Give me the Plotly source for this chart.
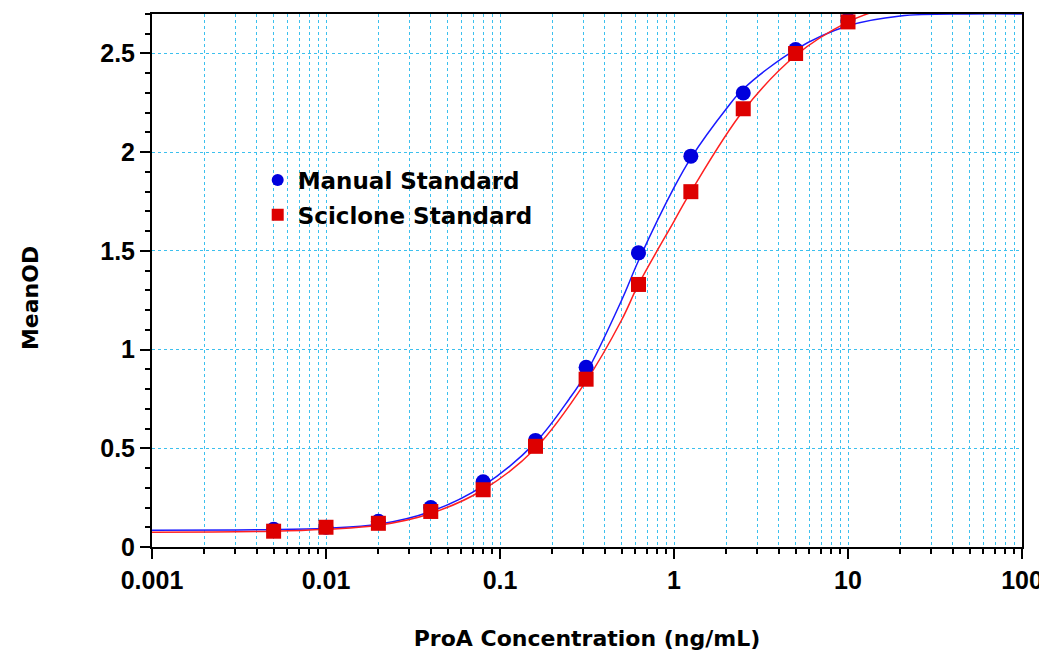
import plotly.graph_objects as go

# Standard points
conc = [0.005, 0.01, 0.02, 0.04, 0.08, 0.16, 0.3125, 0.625, 1.25, 2.5, 5, 10]
manual_od = [0.09, 0.10, 0.13, 0.20, 0.33, 0.54, 0.91, 1.49, 1.98, 2.30, 2.52, 2.67]
sciclone_od = [0.08, 0.10, 0.12, 0.18, 0.29, 0.51, 0.85, 1.33, 1.80, 2.22, 2.50, 2.66]

# Fitted curves
manual_fit_x = [0.001, 0.005, 0.01, 0.02, 0.04, 0.08, 0.16, 0.25, 0.3125, 0.5, 0.625, 1, 1.25, 2, 2.5, 5, 10, 20, 50, 100]
manual_fit_y = [0.085, 0.088, 0.095, 0.115, 0.18, 0.31, 0.53, 0.75, 0.88, 1.25, 1.45, 1.82, 1.97, 2.22, 2.32, 2.52, 2.64, 2.69, 2.70, 2.70]
sciclone_fit_x = [0.001, 0.005, 0.01, 0.02, 0.04, 0.08, 0.16, 0.3125, 0.5, 0.625, 1, 1.25, 2.5, 5, 10, 15, 20]
sciclone_fit_y = [0.075, 0.08, 0.09, 0.11, 0.17, 0.29, 0.50, 0.84, 1.15, 1.33, 1.65, 1.80, 2.21, 2.49, 2.66, 2.72, 2.75]

x_tickvals = [0.001, 0.01, 0.1, 1, 10, 100]
x_ticktext = ["0.001", "0.01", "0.1", "1", "10", "100"]
y_tickvals = [0, 0.5, 1, 1.5, 2, 2.5]
y_ticktext = ["0", "0.5", "1", "1.5", "2", "2.5"]

BLUE = "#0000dd"
RED = "#dd0000"
GRID = "#3cc0ee"
TICKFONT = "Liberation Sans"
TEXTFONT = "DejaVu Sans"

fig = go.Figure()
fig.add_trace(go.Scatter(x=manual_fit_x, y=manual_fit_y, mode="lines",
                         line=dict(color="#1a1aff", width=1.5, shape="spline"),
                         showlegend=False, hoverinfo="skip"))
fig.add_trace(go.Scatter(x=sciclone_fit_x, y=sciclone_fit_y, mode="lines",
                         line=dict(color="#ff2020", width=1.5, shape="spline"),
                         showlegend=False, hoverinfo="skip"))
fig.add_trace(go.Scatter(x=conc, y=manual_od, mode="markers", name="Manual Standard",
                         legendgroup="a",
                         marker=dict(symbol="circle", size=15, color=BLUE)))
fig.add_trace(go.Scatter(x=conc, y=sciclone_od, mode="markers", name="Sciclone Standard",
                         legendgroup="b",
                         marker=dict(symbol="square", size=15, color=RED)))

fig.update_layout(
    width=1039, height=644,
    margin=dict(l=144, r=25, t=4, b=105),
    paper_bgcolor="white", plot_bgcolor="white",
    font=dict(family=TEXTFONT, size=20, color="black"),
    legend=dict(x=0.1215, y=0.729, xanchor="left", yanchor="top",
                bgcolor="rgba(0,0,0,0)", itemsizing="constant",
                font=dict(family=TEXTFONT, size=23, color="black", weight="bold"),
                tracegroupgap=2),
    annotations=[dict(text="MeanOD", textangle=-90, xref="paper", yref="paper",
                      x=(30 - 152) / 870, y=(545 - 297) / 531, xanchor="center", yanchor="middle",
                      showarrow=False, font=dict(family=TEXTFONT, size=22, weight="bold", color="black"))],
)
fig.update_xaxes(
    type="log", range=[-3, 2],
    tickvals=x_tickvals, ticktext=x_ticktext, ticklabeloverflow="allow",
    tickfont=dict(family=TICKFONT, size=25, weight="bold"),
    ticks="outside", ticklen=10, tickwidth=2, tickcolor="black",
    showline=True, linecolor="black", linewidth=2, mirror=True,
    showgrid=True, gridcolor=GRID, gridwidth=1, griddash="dot",
    minor=dict(dtick="D1", showgrid=True, gridcolor=GRID, gridwidth=1, griddash="dot",
               ticks="outside", ticklen=5, tickwidth=2, tickcolor="black"),
    zeroline=False,
    title=dict(text="ProA Concentration (ng/mL)", standoff=38,
               font=dict(family=TEXTFONT, size=22, weight="bold")),
)
fig.update_yaxes(
    range=[0, 2.7],
    tickvals=y_tickvals, ticktext=y_ticktext,
    tickfont=dict(family=TICKFONT, size=25, weight="bold"),
    ticks="outside", ticklen=10, tickwidth=2, tickcolor="black",
    showline=True, linecolor="black", linewidth=2, mirror=True,
    showgrid=True, gridcolor=GRID, gridwidth=1, griddash="dot",
    minor=dict(dtick=0.1, showgrid=False, ticks="outside", ticklen=5, tickwidth=2, tickcolor="black"),
    zeroline=False,
)

fig.write_html("out.html", config={"displayModeBar": False},
               post_script="document.body.style.overflow='hidden';")
